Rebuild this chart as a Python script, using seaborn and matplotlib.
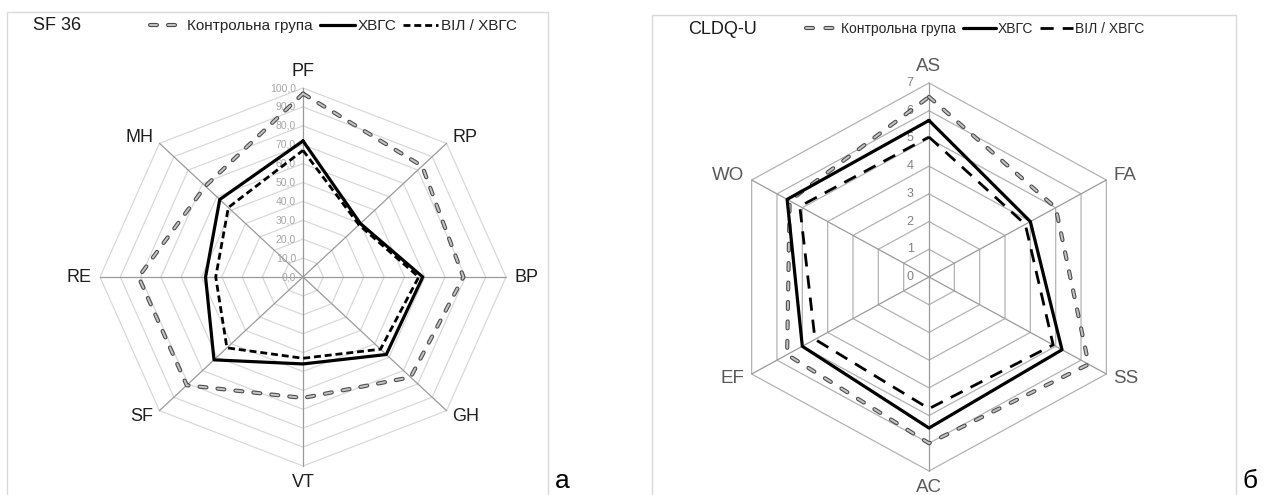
import numpy as np
import pandas as pd
import matplotlib
matplotlib.use("Agg")
import matplotlib.pyplot as plt
import matplotlib.patheffects as pe
from matplotlib.lines import Line2D
from matplotlib.patches import Rectangle
import seaborn as sns

sns.set_theme(style="white")
plt.rcParams['font.family'] = ['Liberation Sans', 'DejaVu Sans']
plt.rcParams['lines.scale_dashes'] = False

# --- дані: SF 36 ---
SF_AXES = ["PF", "RP", "BP", "GH", "VT", "SF", "RE", "MH"]
SF_CONTROL = [97, 83, 79, 75, 64, 81, 81, 68]
SF_HCV = [72, 40, 59, 58, 46, 62, 48, 58]
SF_HIV_HCV = [67, 39, 57, 54, 43, 53, 43, 52]
SF_TICKS = [0, 10, 20, 30, 40, 50, 60, 70, 80, 90, 100]

# --- дані: CLDQ-U ---
CLDQ_AXES = ["AS", "FA", "SS", "AC", "EF", "WO"]
CLDQ_CONTROL = [6.5, 5.0, 6.3, 6.0, 5.6, 5.5]
CLDQ_HCV = [5.65, 4.0, 5.25, 5.45, 5.0, 5.6]
CLDQ_HIV_HCV = [5.05, 3.8, 4.9, 4.75, 4.5, 5.1]
CLDQ_TICKS = [0, 1, 2, 3, 4, 5, 6, 7]

LEGEND_LABELS = ["Контрольна група", "ХВГС", "ВІЛ / ХВГС"]

W, H = 1267, 495
fig = plt.figure(figsize=(W / 100, H / 100), dpi=100)

CTRL_FX = [pe.Stroke(linewidth=3.0, foreground='#4d4d4d'), pe.Normal()]


def radar_xy(values, vmax):
    n = len(values)
    ang = np.arange(n) * 2 * np.pi / n
    r = np.asarray(values, dtype=float) / vmax
    x, y = r * np.sin(ang), r * np.cos(ang)
    return np.append(x, x[0]), np.append(y, y[0])


def make_ax(cx, cy, px_x, px_y, half_w, half_h):
    # осі в пікселях: центр (cx, cy), px на одиницю радіуса
    ax = fig.add_axes([(cx - half_w) / W, (H - cy - half_h) / H, 2 * half_w / W, 2 * half_h / H])
    ax.set_xlim(-half_w / px_x, half_w / px_x)
    ax.set_ylim(-half_h / px_y, half_h / px_y)
    ax.axis('off')
    return ax


def draw_grid(ax, n, ticks, ring_color, spoke_color):
    vmax = ticks[-1]
    for t in ticks[1:]:
        x, y = radar_xy([t] * n, vmax)
        ax.plot(x, y, color=ring_color, lw=0.9, zorder=1)
    x, y = radar_xy([vmax] * n, vmax)
    for i in range(n):
        ax.plot([0, x[i]], [0, y[i]], color=spoke_color, lw=0.9, zorder=1)


def draw_series(ax, values, vmax, **kw):
    x, y = radar_xy(values, vmax)
    df = pd.DataFrame({'x': x, 'y': y})
    sns.lineplot(data=df, x='x', y='y', sort=False, estimator=None, ax=ax, legend=False, **kw)


def draw_labels(ax, names, vmax, size, color, gap):
    x, y = radar_xy([vmax] * len(names), vmax)
    for i, name in enumerate(names):
        a = 2 * np.pi * i / len(names)
        s, c = np.sin(a), np.cos(a)
        ha = 'left' if s > 0.1 else ('right' if s < -0.1 else 'center')
        if c > 0.95:
            va = 'bottom'
        elif c < -0.95:
            va = 'top'
        else:
            va = 'center'
        ax.annotate(name, xy=(x[i], y[i]), xytext=(gap * s, gap * c), textcoords='offset points',
                    ha=ha, va=va, size=size, color=color, annotation_clip=False)


def styles(ctrl_dash, hiv_dash):
    ctrl = dict(color='#c4c4c4', linewidth=1.4, linestyle=(0, ctrl_dash), dash_capstyle='round',
                path_effects=CTRL_FX)
    hcv = dict(color='black', linewidth=2.3, linestyle='-')
    hiv = dict(color='black', linewidth=2.0, linestyle=(0, hiv_dash), dash_capstyle='butt')
    return ctrl, hcv, hiv


# --- a: SF 36 ---
ax1 = make_ax(303, 277, 203, 189, 240, 230)
draw_grid(ax1, len(SF_AXES), SF_TICKS, '#d9d9d9', '#9a9a9a')
ctrl1, hcv1, hiv1 = styles((5.0, 8.0), (5, 2.8))
draw_series(ax1, SF_CONTROL, 100, zorder=3, **ctrl1)
draw_series(ax1, SF_HIV_HCV, 100, zorder=4, **hiv1)
draw_series(ax1, SF_HCV, 100, zorder=5, **hcv1)
for t in SF_TICKS:
    ax1.annotate(f"{t:.1f}".replace('.', ','), xy=(0, t / 100), xytext=(-5, 0), textcoords='offset points',
                 ha='right', va='center', size=7.5, color='#a6a6a6', zorder=2)
draw_labels(ax1, SF_AXES, 100, 13, '#1f1f1f', 6)

# --- б: CLDQ-U ---
ax2 = make_ax(929, 277, 204.8, 194, 270, 230)
draw_grid(ax2, len(CLDQ_AXES), CLDQ_TICKS, '#b3b3b3', '#9a9a9a')
ctrl2, hcv2, hiv2 = styles((5.0, 9.0), (9.5, 6.5))
draw_series(ax2, CLDQ_CONTROL, 7, zorder=3, **ctrl2)
draw_series(ax2, CLDQ_HIV_HCV, 7, zorder=4, **hiv2)
draw_series(ax2, CLDQ_HCV, 7, zorder=5, **hcv2)
for t in CLDQ_TICKS:
    ax2.annotate(str(t), xy=(0, t / 7), xytext=(-11, 0), textcoords='offset points',
                 ha='right', va='center', size=9, color='#808080', zorder=2)
draw_labels(ax2, CLDQ_AXES, 7, 13.5, '#595959', 6)

# --- рамки, заголовки, легенди ---
for x0, x1, y0 in [(7, 548, 12), (652, 1236, 15)]:
    fig.add_artist(Rectangle((x0 / W, -0.02), (x1 - x0) / W, (H - y0) / H + 0.02,
                             transform=fig.transFigure, fill=False, ec='#d9d9d9', lw=1.0))

fig.text(33 / W, 1 - 26 / H, "SF 36", size=13, va='center', ha='left', color='#1a1a1a')
fig.text(688 / W, 1 - 29 / H, "CLDQ-U", size=13, va='center', ha='left', color='#1a1a1a')


def legend_handles(ctrl, hcv, hiv):
    out = []
    for st in (ctrl, hcv, hiv):
        out.append(Line2D([0], [0], **st))
    return out


fig.legend(legend_handles(ctrl1, hcv1, hiv1), LEGEND_LABELS, loc='center left',
           bbox_to_anchor=(150 / W, 1 - 26 / H), ncol=3, frameon=False, fontsize=11,
           handlelength=2.3, handletextpad=0.15, columnspacing=0.45, borderpad=0, borderaxespad=0)
fig.legend(legend_handles(ctrl2, hcv2, hiv2), LEGEND_LABELS, loc='center left',
           bbox_to_anchor=(806 / W, 1 - 29 / H), ncol=3, frameon=False, fontsize=10,
           handlelength=2.4, handletextpad=0.15, columnspacing=0.45, borderpad=0, borderaxespad=0)

fig.text(555 / W, 1 - 481 / H, "а", size=19, va='center', ha='left', color='black')
fig.text(1242 / W, 1 - 481 / H, "б", size=19, va='center', ha='left', color='black')

fig.savefig("out.png", dpi=100, facecolor='white')
